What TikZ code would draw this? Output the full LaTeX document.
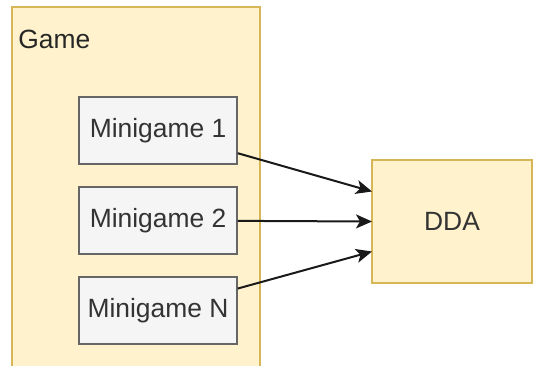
\documentclass[tikz,border=0pt]{standalone}
\usepackage{fontspec}
\setmainfont{Liberation Sans}
\usetikzlibrary{arrows.meta}

\definecolor{gamefill}{HTML}{FFF2CC}
\definecolor{gameline}{HTML}{D6B656}
\definecolor{minifill}{HTML}{F5F5F5}
\definecolor{miniline}{HTML}{666666}
\definecolor{minitext}{HTML}{333333}

\begin{document}
\begin{tikzpicture}[x=0.5pt,y=-0.5pt,
    container/.style={draw=gameline,fill=gamefill,line width=0.75pt,inner sep=0pt},
    minibox/.style={draw=miniline,fill=minifill,line width=0.75pt,text=minitext,
      minimum width=79pt,minimum height=33.5pt,inner sep=0pt},
    font=\fontsize{13.2}{16}\selectfont]
  \useasboundingbox (0,0) rectangle (541,365);
  \node[container,minimum width=124pt,minimum height=186pt] (game) at (136,193) {};
  \node[anchor=base west,inner sep=0pt,text=black!85] (gamelabel) at (18,48) {Game};
  \node[minibox] (m1) at (158,130.5) {Minigame 1};
  \node[minibox] (m2) at (158,220.5) {Minigame 2};
  \node[minibox] (mN) at (158,310.5) {Minigame N};
  \node[container,minimum width=80pt,minimum height=61.5pt,text=minitext] (dda) at (452,221.5) {DDA};
  \coordinate (in1) at (372,191.5);
  \coordinate (in2) at (372,221.5);
  \coordinate (in3) at (372,251.5);
  \path[-{Stealth[length=8pt,width=7pt,inset=2pt]},line width=1pt,black!90]
    (m1) edge (in1)
    (m2) edge (in2)
    (mN) edge (in3);
\end{tikzpicture}
\end{document}
